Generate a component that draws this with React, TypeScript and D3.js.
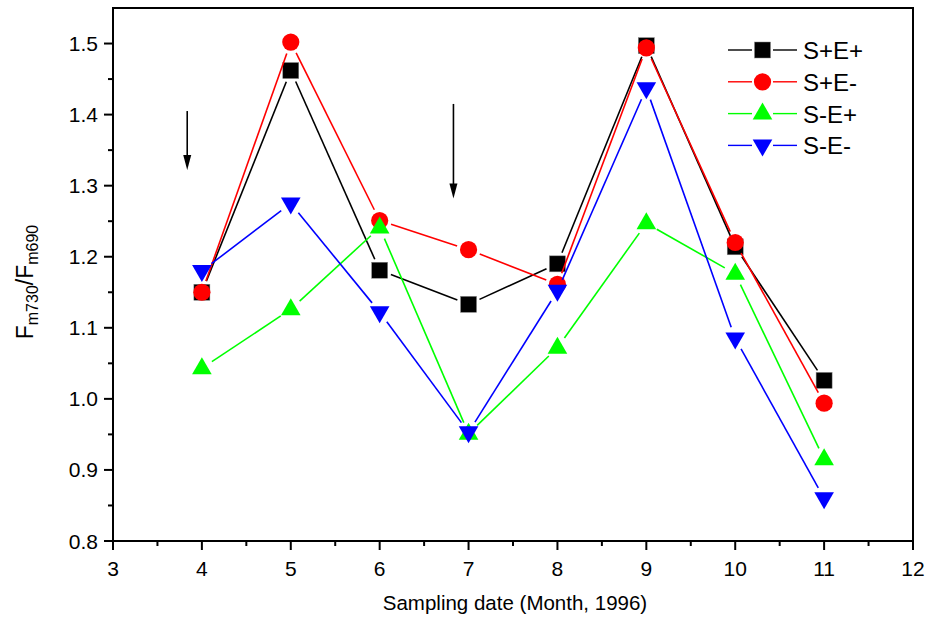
import React from "react";
import * as d3 from "d3";

const months = [4, 5, 6, 7, 8, 9, 10, 11];
const sPlusEPlus = [1.15, 1.462, 1.181, 1.133, 1.19, 1.497, 1.214, 1.026];
const sPlusEMinus = [1.15, 1.502, 1.251, 1.21, 1.161, 1.494, 1.22, 0.994];
const sMinusEPlus = [1.043, 1.126, 1.241, 0.951, 1.072, 1.247, 1.176, 0.915];
const sMinusEMinus = [1.18, 1.275, 1.122, 0.953, 1.152, 1.437, 1.085, 0.86];
const seriesNames = ["S+E+", "S+E-", "S-E+", "S-E-"];
const seriesColors = ["#000000", "#ff0000", "#00ff00", "#0000ff"];
const seriesShapes = ["square", "circle", "triangle", "invtriangle"];
const xTicks = [3, 4, 5, 6, 7, 8, 9, 10, 11, 12];
const yTicks = [0.8, 0.9, 1.0, 1.1, 1.2, 1.3, 1.4, 1.5];
const arrowX = [3.835, 6.83];
const arrowTop = [1.405, 1.415];
const arrowBottom = [1.322, 1.282];

const W = 930, H = 620;
const L = 113, R = 913, T = 8, B = 541;
const FONT = "'Liberation Sans', Arial, sans-serif";

function Marker({ shape, x, y, color }: { shape: string; x: number; y: number; color: string }) {
  if (shape === "square") return <rect x={x - 8} y={y - 8} width={16} height={16} fill={color} stroke="#888" strokeWidth={0.5} />;
  if (shape === "circle") return <circle cx={x} cy={y} r={8.6} fill={color} />;
  if (shape === "triangle") return <path d={`M${x},${y - 11}L${x + 9.8},${y + 6}L${x - 9.8},${y + 6}Z`} fill={color} />;
  return <path d={`M${x},${y + 11}L${x + 9.8},${y - 6}L${x - 9.8},${y - 6}Z`} fill={color} />;
}

export default function App() {
  const x = d3.scaleLinear().domain([3, 12]).range([L, R]);
  const y = d3.scaleLinear().domain([0.8, 1.55]).range([B, T]);
  const data = [sPlusEPlus, sPlusEMinus, sMinusEPlus, sMinusEMinus];
  const minorX = d3.range(3.5, 12, 1);
  const minorY = d3.range(0.85, 1.55, 0.1);
  const gap = 12;

  return (
    <svg width={W} height={H} style={{ position: "absolute", left: 0, top: 0, background: "#fff" }}>
      <rect x={0} y={0} width={W} height={H} fill="#fff" />
      {/* series */}
      {data.map((vals, si) => {
        const pts = vals.map((v, i) => [x(months[i]), y(v)]);
        const segs = [];
        for (let i = 0; i < pts.length - 1; i++) {
          const [x1, y1] = pts[i], [x2, y2] = pts[i + 1];
          const len = Math.hypot(x2 - x1, y2 - y1);
          if (len <= 2 * gap) continue;
          const ux = (x2 - x1) / len, uy = (y2 - y1) / len;
          segs.push(
            <line key={i} x1={x1 + ux * gap} y1={y1 + uy * gap} x2={x2 - ux * gap} y2={y2 - uy * gap}
              stroke={seriesColors[si]} strokeWidth={1.6} />
          );
        }
        return (
          <g key={si}>
            {segs}
            {pts.map((p, i) => <Marker key={i} shape={seriesShapes[si]} x={p[0]} y={p[1]} color={seriesColors[si]} />)}
          </g>
        );
      })}
      {/* arrows */}
      {arrowX.map((ax, i) => {
        const cx = x(ax), yb = y(arrowBottom[i]);
        return (
          <g key={i}>
            <line x1={cx} x2={cx} y1={y(arrowTop[i])} y2={yb - 12} stroke="#000" strokeWidth={1.6} />
            <path d={`M${cx - 4},${yb - 15}L${cx + 4},${yb - 15}L${cx},${yb}Z`} fill="#000" />
          </g>
        );
      })}
      {/* frame */}
      <rect x={L} y={T} width={R - L} height={B - T} fill="none" stroke="#000" strokeWidth={2} />
      {/* x ticks */}
      {xTicks.map((t) => (
        <g key={t}>
          <line x1={x(t)} x2={x(t)} y1={B} y2={B + 9} stroke="#000" strokeWidth={2} />
          <text x={x(t)} y={576} textAnchor="middle" fontFamily={FONT} fontSize={21}>{t}</text>
        </g>
      ))}
      {minorX.map((t) => <line key={t} x1={x(t)} x2={x(t)} y1={B} y2={B + 5} stroke="#000" strokeWidth={2} />)}
      {/* y ticks */}
      {yTicks.map((t) => (
        <g key={t}>
          <line x1={L - 9} x2={L} y1={y(t)} y2={y(t)} stroke="#000" strokeWidth={2} />
          <text x={98} y={y(t) + 7.5} textAnchor="end" fontFamily={FONT} fontSize={21}>{t.toFixed(1)}</text>
        </g>
      ))}
      {minorY.map((t) => <line key={t} x1={L - 5} x2={L} y1={y(t)} y2={y(t)} stroke="#000" strokeWidth={2} />)}
      {/* axis titles */}
      <text x={515} y={610} textAnchor="middle" fontFamily={FONT} fontSize={20.5}>Sampling date (Month, 1996)</text>
      <text transform={`translate(33,282) rotate(-90)`} textAnchor="middle" fontFamily={FONT} fontSize={23}>
        F<tspan fontSize={16} dy={5}>m730</tspan><tspan dy={-5}>/F</tspan><tspan fontSize={16} dy={5}>m690</tspan>
      </text>
      {/* legend */}
      {seriesNames.map((n, i) => {
        const ly = 50 + i * 31.8;
        return (
          <g key={n}>
            <line x1={728} x2={752} y1={ly} y2={ly} stroke={seriesColors[i]} strokeWidth={1.4} />
            <line x1={773} x2={797} y1={ly} y2={ly} stroke={seriesColors[i]} strokeWidth={1.4} />
            <Marker shape={seriesShapes[i]} x={762.5} y={ly} color={seriesColors[i]} />
            <text x={803} y={ly + 9} fontFamily={FONT} fontSize={24}>{n}</text>
          </g>
        );
      })}
    </svg>
  );
}
